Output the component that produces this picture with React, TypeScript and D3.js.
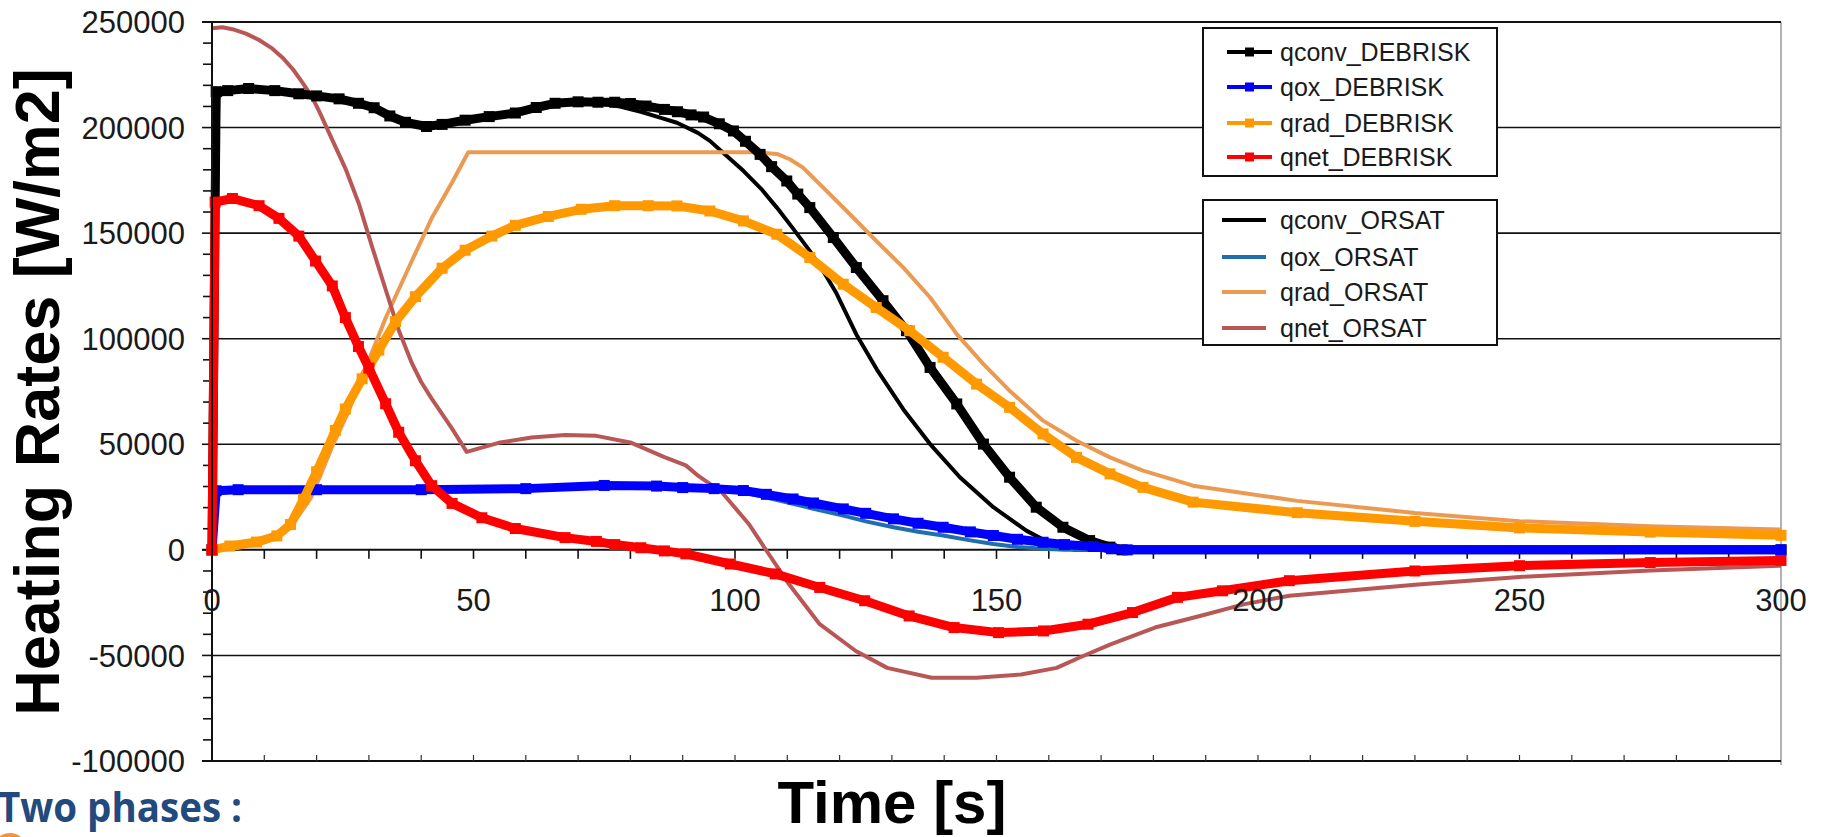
import React, { useEffect, useRef } from 'react';
import * as d3 from 'd3';

// [time s, heating rate W/m2] pairs
const qconvDebrisk: [number, number][] = [
  [0, 0], [0.8, 217000], [3, 217500], [7, 218500], [12, 217500], [16.6, 216000], [20, 215000],
  [24.3, 213600], [28, 211500], [31, 209400], [34, 205500], [37, 202500], [41, 200500], [44, 201500],
  [48.4, 203500], [53, 205200], [58, 206900], [62, 209500], [65.6, 211500], [70, 212200], [73.8, 212000],
  [77, 212000], [80, 211400], [83, 210200], [86.5, 208600], [89, 207500], [91.6, 206000], [94, 205000],
  [97, 201800], [99.7, 198400], [102, 193500], [104.8, 187300], [107, 181500], [109.9, 174700],
  [112, 168500], [114.3, 162100], [118.8, 147900], [123.2, 133700], [128.3, 118000], [132.8, 103800],
  [137.3, 86400], [142.4, 69100], [147.5, 50100], [152.5, 34400], [157.6, 20200], [162.7, 10700],
  [167.8, 4400], [171.7, 1300], [174, 0], [300, 0],
];
const qoxDebrisk: [number, number][] = [
  [0, 0], [0.8, 28000], [5, 28500], [20, 28500], [40, 28500], [60, 29000], [75, 30500], [85, 30200],
  [90, 29500], [96, 29000], [101.6, 28100], [106, 26300], [111.1, 24100], [115, 22200], [120.7, 19400],
  [125, 17300], [130.3, 14700], [135, 12600], [139.8, 10700], [145, 8500], [149.4, 6800], [154, 5000],
  [158.9, 3600], [163, 2500], [168.5, 1600], [172, 500], [175, 0], [300, 0],
];
const qradDebrisk: [number, number][] = [
  [0, 0], [3.4, 1800], [8.5, 3700], [12.4, 6600], [15, 12000], [17.5, 24000], [20, 37000], [23.6, 56600],
  [25.5, 66700], [28.7, 81000], [31.9, 94600], [35.1, 108100], [38.9, 119900], [44, 133400], [48.4, 141900],
  [53.5, 148600], [58, 153700], [64.3, 157900], [70.6, 161300], [77, 163000], [83.4, 163000], [88.9, 162900],
  [95.2, 160500], [101.6, 155800], [108, 149500], [114.3, 138500], [120.7, 125800], [127, 114800],
  [133.4, 103800], [139.8, 91200], [146.2, 78500], [152.5, 67500], [158.9, 54900], [165.3, 43800],
  [171.7, 36000], [178, 29600], [187.6, 22600], [207.5, 17600], [230, 13500], [250, 10400], [275, 8400],
  [300, 6900],
];
const qnetDebrisk: [number, number][] = [
  [0, 0], [0.6, 164700], [3.9, 166400], [9, 163000], [12.8, 157000], [16.6, 148600], [19.8, 136800],
  [23, 125000], [25.5, 110000], [28, 96300], [30, 86100], [33.2, 69200], [35.7, 55700], [38.9, 42200],
  [42, 30400], [45.9, 22000], [51.6, 15200], [58, 10100], [67.5, 5800], [73.5, 4000], [77, 2500], [82, 1000],
  [86.5, -500], [90.6, -1900], [99.1, -6700], [107.7, -11400], [116.2, -17800], [124.8, -24100],
  [133.3, -31300], [141.9, -36800], [150.4, -39200], [159, -38400], [167.5, -35200], [176, -29700],
  [184.6, -22500], [193.2, -19400], [206, -14600], [230, -10000], [250, -7500], [275, -6000], [300, -5000],
];

const qconvOrsat: [number, number][] = [
  [0, 0], [1.2, 215000], [3, 217000], [7, 218000], [12, 217500], [16.6, 216000], [20, 215000],
  [24.3, 213600], [28, 211500], [31, 209400], [34, 205500], [37, 202500], [41, 200500], [44, 201500],
  [48.4, 203500], [53, 205200], [58, 206900], [62, 209500], [65.6, 211500], [70, 212000], [74, 211500],
  [78, 210000], [82, 207500], [86, 204500], [88.9, 202300], [92.9, 197500], [95.2, 193700], [98, 187500],
  [101.6, 179500], [105, 171000], [108, 162100], [111, 152500], [114.3, 141600], [117, 131500],
  [119.4, 121500], [123.2, 102000], [127.1, 85500], [132.2, 66500], [137.3, 50100],
  [143, 34400], [149.4, 20200], [155.7, 9100], [160, 3500], [162.1, 1300], [165, 0], [300, 0],
];
const qoxOrsat: [number, number][] = [
  [0, 0], [1, 28000], [5, 28500], [20, 28500], [40, 28500], [60, 29000], [75, 30300], [85, 29800],
  [96, 28500], [101.6, 27300], [106, 24800], [111.1, 21800], [115, 19500], [120.7, 16200], [125, 13500],
  [130.3, 10700], [135, 8600], [139.8, 6800], [145, 4500], [149.4, 2800], [154, 1400], [158.9, 500],
  [163, 0], [300, 0],
];
const qradOrsat: [number, number][] = [
  [0, 0], [5, 1000], [10, 3500], [15, 10500], [19, 25000], [23, 49000], [26, 65000], [29.4, 86100],
  [33.2, 109800], [38.2, 136800], [42, 157000], [45.9, 174000], [49, 188300], [104, 188300], [108, 187500],
  [110.5, 185000], [113, 181000], [117.5, 170000], [122.6, 157400], [127, 146300], [132.2, 133700],
  [137.3, 119500], [142.4, 102200], [147.5, 88000], [152.5, 75400], [158.9, 61200], [165.3, 51700],
  [171.7, 43800], [178, 37500], [187.6, 30400], [207.5, 23200], [230, 17500], [250, 13600], [275, 11200],
  [300, 9600],
];
const qnetOrsat: [number, number][] = [
  [0, 247000], [2, 247500], [3.9, 246600], [6.5, 244500], [9, 241500], [11.5, 237500], [13.5, 233100],
  [15.5, 227500], [17.3, 221300], [19, 215000], [20.5, 207700], [23, 194200], [25.5, 180700],
  [28.1, 163800], [30.6, 143600], [33.2, 123300], [35.7, 104000], [38.2, 88500], [40, 79500], [42, 71600],
  [45.9, 57400], [48.7, 46400], [54.8, 50700], [61.1, 53200], [67.5, 54400], [73.5, 54000], [80.2, 50700],
  [86.5, 43900], [90.6, 40000], [93, 35000], [97.4, 27500], [102.6, 12400], [106, -300], [110.3, -16200],
  [116.2, -35200], [123.1, -47900], [129.1, -55900], [137.6, -60600], [146.2, -60600], [154.7, -59000],
  [161.5, -55900], [165.8, -51100], [171.8, -44800], [180.3, -36800], [188.9, -31300], [197.4, -25700],
  [206, -21700], [230, -16500], [250, -12800], [275, -9800], [300, -7500],
];

const yTicks = [250000, 200000, 150000, 100000, 50000, 0, -50000, -100000];
const xTicks = [0, 50, 100, 150, 200, 250, 300];

const debriskSeries = [
  { label: 'qconv_DEBRISK', color: '#000000', data: qconvDebrisk },
  { label: 'qox_DEBRISK', color: '#0000ff', data: qoxDebrisk },
  { label: 'qrad_DEBRISK', color: '#ff9900', data: qradDebrisk },
  { label: 'qnet_DEBRISK', color: '#ff0000', data: qnetDebrisk },
];
const orsatSeries = [
  { label: 'qconv_ORSAT', color: '#000000', data: qconvOrsat },
  { label: 'qox_ORSAT', color: '#1f6fae', data: qoxOrsat },
  { label: 'qrad_ORSAT', color: '#eb9a52', data: qradOrsat },
  { label: 'qnet_ORSAT', color: '#b85856', data: qnetOrsat },
];

const W = 1830;
const H = 837;
const FONT = '"Liberation Sans", Arial, sans-serif';

const App = () => {
  const ref = useRef<SVGSVGElement>(null);

  useEffect(() => {
    const svg = d3.select(ref.current);
    svg.selectAll('*').remove();

    const x = d3.scaleLinear().domain([0, 300]).range([212, 1781]);
    const y = d3.scaleLinear().domain([-100000, 250000]).range([761, 22]);

    // --- grid lines and frame ---
    const grid = svg.append('g');
    grid.selectAll('line.grid')
      .data(yTicks.filter(v => v !== 0 && v !== -100000))
      .enter().append('line')
      .attr('x1', x(0)).attr('x2', x(300))
      .attr('y1', d => y(d)).attr('y2', d => y(d))
      .attr('stroke', '#111').attr('stroke-width', 1.6);

    grid.append('line') // right border
      .attr('x1', x(300)).attr('x2', x(300)).attr('y1', y(250000)).attr('y2', y(-100000) + 4)
      .attr('stroke', '#999').attr('stroke-width', 1.5);
    grid.append('line') // bottom border
      .attr('x1', x(0) - 10).attr('x2', x(300)).attr('y1', y(-100000)).attr('y2', y(-100000))
      .attr('stroke', '#111').attr('stroke-width', 2);
    grid.append('line') // zero axis
      .attr('x1', x(0) - 10).attr('x2', x(300)).attr('y1', y(0)).attr('y2', y(0))
      .attr('stroke', '#111').attr('stroke-width', 2);

    // y minor/major ticks every 10000
    grid.selectAll('line.yt')
      .data(d3.range(-100000, 250001, 10000))
      .enter().append('line')
      .attr('x1', d => (d % 50000 === 0 ? x(0) - 10 : x(0) - 9)).attr('x2', x(0))
      .attr('y1', d => y(d)).attr('y2', d => y(d))
      .attr('stroke', '#111').attr('stroke-width', 1.6);

    // x ticks on zero axis, and small ticks on bottom border
    grid.selectAll('line.xt')
      .data(d3.range(10, 301, 10))
      .enter().append('line')
      .attr('x1', d => x(d)).attr('x2', d => x(d))
      .attr('y1', y(0)).attr('y2', y(0) + 9)
      .attr('stroke', '#111').attr('stroke-width', 1.6);
    grid.selectAll('line.xb')
      .data(d3.range(10, 300, 10))
      .enter().append('line')
      .attr('x1', d => x(d)).attr('x2', d => x(d))
      .attr('y1', y(-100000) - 6).attr('y2', y(-100000))
      .attr('stroke', '#333').attr('stroke-width', 1.2);

    // --- series ---
    const line = d3.line<[number, number]>()
      .x(d => x(d[0]))
      .y(d => y(d[1]))
      .curve(d3.curveLinear);

    const plot = svg.append('g');
    orsatSeries.forEach(s => {
      plot.append('path')
        .datum(s.data)
        .attr('d', line)
        .attr('fill', 'none')
        .attr('stroke', s.color)
        .attr('stroke-width', 4)
        .attr('stroke-linejoin', 'round');
    });

    debriskSeries.forEach(s => {
      plot.append('path')
        .datum(s.data)
        .attr('d', line)
        .attr('fill', 'none')
        .attr('stroke', s.color)
        .attr('stroke-width', 9)
        .attr('stroke-linejoin', 'round');
      plot.selectAll(null)
        .data(s.data)
        .enter().append('rect')
        .attr('x', d => x(d[0]) - 5.5)
        .attr('y', d => y(d[1]) - 5.5)
        .attr('width', 11).attr('height', 11)
        .attr('fill', s.color);
    });

    // y axis line drawn on top of curve starts
    svg.append('line')
      .attr('x1', x(0)).attr('x2', x(0)).attr('y1', y(250000)).attr('y2', y(-100000))
      .attr('stroke', '#111').attr('stroke-width', 2);
    svg.append('line') // top border
      .attr('x1', x(0) - 10).attr('x2', x(300)).attr('y1', y(250000)).attr('y2', y(250000))
      .attr('stroke', '#111').attr('stroke-width', 2);

    // --- tick labels ---
    svg.selectAll('text.yl')
      .data(yTicks)
      .enter().append('text')
      .attr('x', 185)
      .attr('y', d => y(d))
      .attr('dy', '0.36em')
      .attr('text-anchor', 'end')
      .style('font-family', FONT).style('font-size', '31px')
      .attr('fill', '#1a1a1a')
      .text(d => String(d));

    svg.selectAll('text.xl')
      .data(xTicks)
      .enter().append('text')
      .attr('x', d => x(d))
      .attr('y', 611)
      .attr('text-anchor', 'middle')
      .style('font-family', FONT).style('font-size', '31px')
      .attr('fill', '#1a1a1a')
      .text(d => String(d));

    // --- axis titles ---
    svg.append('text')
      .attr('transform', 'translate(59,392) rotate(-90)')
      .attr('text-anchor', 'middle')
      .style('font-family', FONT).style('font-size', '63px').style('font-weight', 'bold')
      .attr('fill', '#000')
      .text('Heating Rates [W/m2]');

    svg.append('text')
      .attr('x', 892).attr('y', 823)
      .attr('text-anchor', 'middle')
      .style('font-family', FONT).style('font-size', '60px').style('font-weight', 'bold')
      .attr('fill', '#000')
      .text('Time [s]');

    svg.append('text')
      .attr('x', -2).attr('y', 822)
      .attr('textLength', 244).attr('lengthAdjust', 'spacingAndGlyphs')
      .style('font-family', '"Open Sans", sans-serif').style('font-size', '42px').style('font-weight', 'bold')
      .attr('fill', '#234a7e')
      .text('Two phases :');

    svg.append('circle')
      .attr('cx', 10).attr('cy', 850).attr('r', 15)
      .attr('fill', 'none').attr('stroke', '#f2953a').attr('stroke-width', 4);

    // --- legends ---
    const drawLegend = (items, top, bottom, rowY, lx1, lx2, markers) => {
      const g = svg.append('g');
      g.append('rect')
        .attr('x', 1203).attr('y', top).attr('width', 294).attr('height', bottom - top)
        .attr('fill', '#fff').attr('stroke', '#111').attr('stroke-width', 2);
      items.forEach((s, i) => {
        const cy = rowY[i];
        g.append('line')
          .attr('x1', lx1).attr('x2', lx2).attr('y1', cy).attr('y2', cy)
          .attr('stroke', s.color).attr('stroke-width', 4);
        if (markers) {
          g.append('rect')
            .attr('x', (lx1 + lx2) / 2 - 4.5).attr('y', cy - 4.5)
            .attr('width', 9).attr('height', 9).attr('fill', s.color);
        }
        g.append('text')
          .attr('x', 1280).attr('y', cy + 9)
          .style('font-family', FONT).style('font-size', '25px')
          .attr('fill', '#1a1a1a')
          .text(s.label);
      });
    };
    drawLegend(debriskSeries, 28, 176, [52, 87, 123, 157], 1227, 1272, true);
    drawLegend(orsatSeries, 200, 345, [220, 257, 292, 328], 1222, 1266, false);
  }, []);

  return (
    <svg
      ref={ref}
      width={W}
      height={H}
      style={{ position: 'absolute', left: 0, top: 0, background: '#fff', display: 'block' }}
    />
  );
};

export default App;
